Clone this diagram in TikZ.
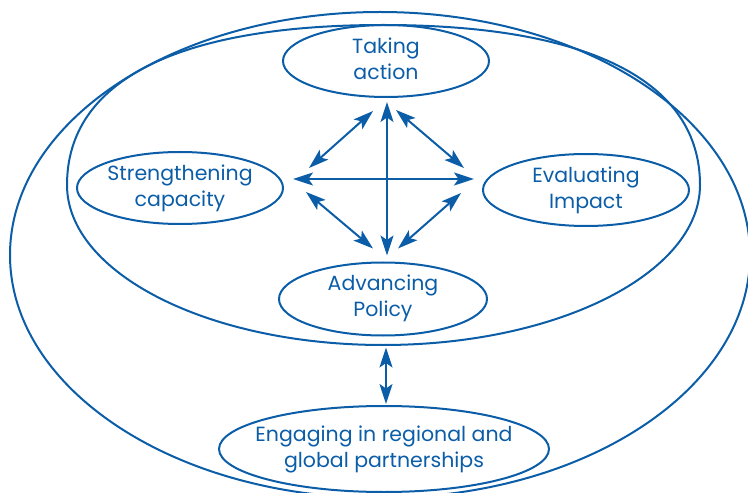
\documentclass[tikz,border=0pt]{standalone}
\usepackage{fontspec}
\setmainfont{Poppins}
\usetikzlibrary{shapes.geometric,arrows.meta,calc}
\definecolor{dblue}{HTML}{0B5DA8}
\begin{document}
\begin{tikzpicture}[x=1bp,y=-1bp,
  ringline/.style={draw=dblue,line width=2bp},
  ring/.style={ringline,ellipse,inner sep=0pt},
  words/.style={text=dblue,align=center,inner sep=0pt,font=\fontsize{20.5bp}{26bp}\selectfont},
  tip/.tip={Stealth[length=20bp,width=13bp,inset=4.5bp]},
  link/.style={draw=dblue,line width=2bp,tip-tip}
]
\useasboundingbox (0,0) rectangle (748,493);
% outer ring
\draw[ringline] (380,255) ellipse [x radius=370, y radius=243];
% inner ring (slightly squarer at the top)
\draw[ringline] (67,185) .. controls (67,81) and (177,25) .. (383,25)
  .. controls (589,25) and (700,81) .. (700,185)
  .. controls (700,273) and (558,345) .. (383,345)
  .. controls (208,345) and (67,273) .. (67,185) -- cycle;
\node[ring,minimum width=206bp,minimum height=72bp] (take) at (386,61) {};
\node[ring,minimum width=206bp,minimum height=72bp] (str) at (180,188) {};
\node[ring,minimum width=206bp,minimum height=72bp] (eva) at (586,190) {};
\node[ring,minimum width=208bp,minimum height=73bp] (adv) at (383,299) {};
\node[ring,minimum width=330bp,minimum height=86bp] (eng) at (384,449) {};
\node[words] (taketext) at ($(take)+(0,-2)$) {Taking\\action};
\node[words] (strtext) at (str) {Strengthening\\capacity};
\node[words] (evatext) at (eva) {Evaluating\\Impact};
\node[words] (advtext) at ($(adv)+(0,-1)$) {Advancing\\Policy};
\node[words] (engtext) at (eng) {Engaging in regional and\\global partnerships};
% cross
\draw[link] ($(take.south)+(1,4)$) -- ($(adv.north)+(4,-6)$);
\draw[link] ($(str.east)+(9,-9)$) -- ($(eva.west)+(-8,-11)$);
% diagonals
\draw[link] ($(str.east)+(25,-20)$) -- ($(take.south)+(-13,13)$);
\draw[link] ($(take.south)+(10,12)$) -- ($(eva.west)+(-18,-22)$);
\draw[link] ($(str.east)+(22,4)$) -- ($(adv.north)+(-10,-13)$);
\draw[link] ($(eva.west)+(-21,3)$) -- ($(adv.north)+(15,-13)$);
% to partnerships
\draw[link] ($(adv.south)+(3,11)$) -- ($(eng.north)+(2,-1)$);
\end{tikzpicture}
\end{document}
